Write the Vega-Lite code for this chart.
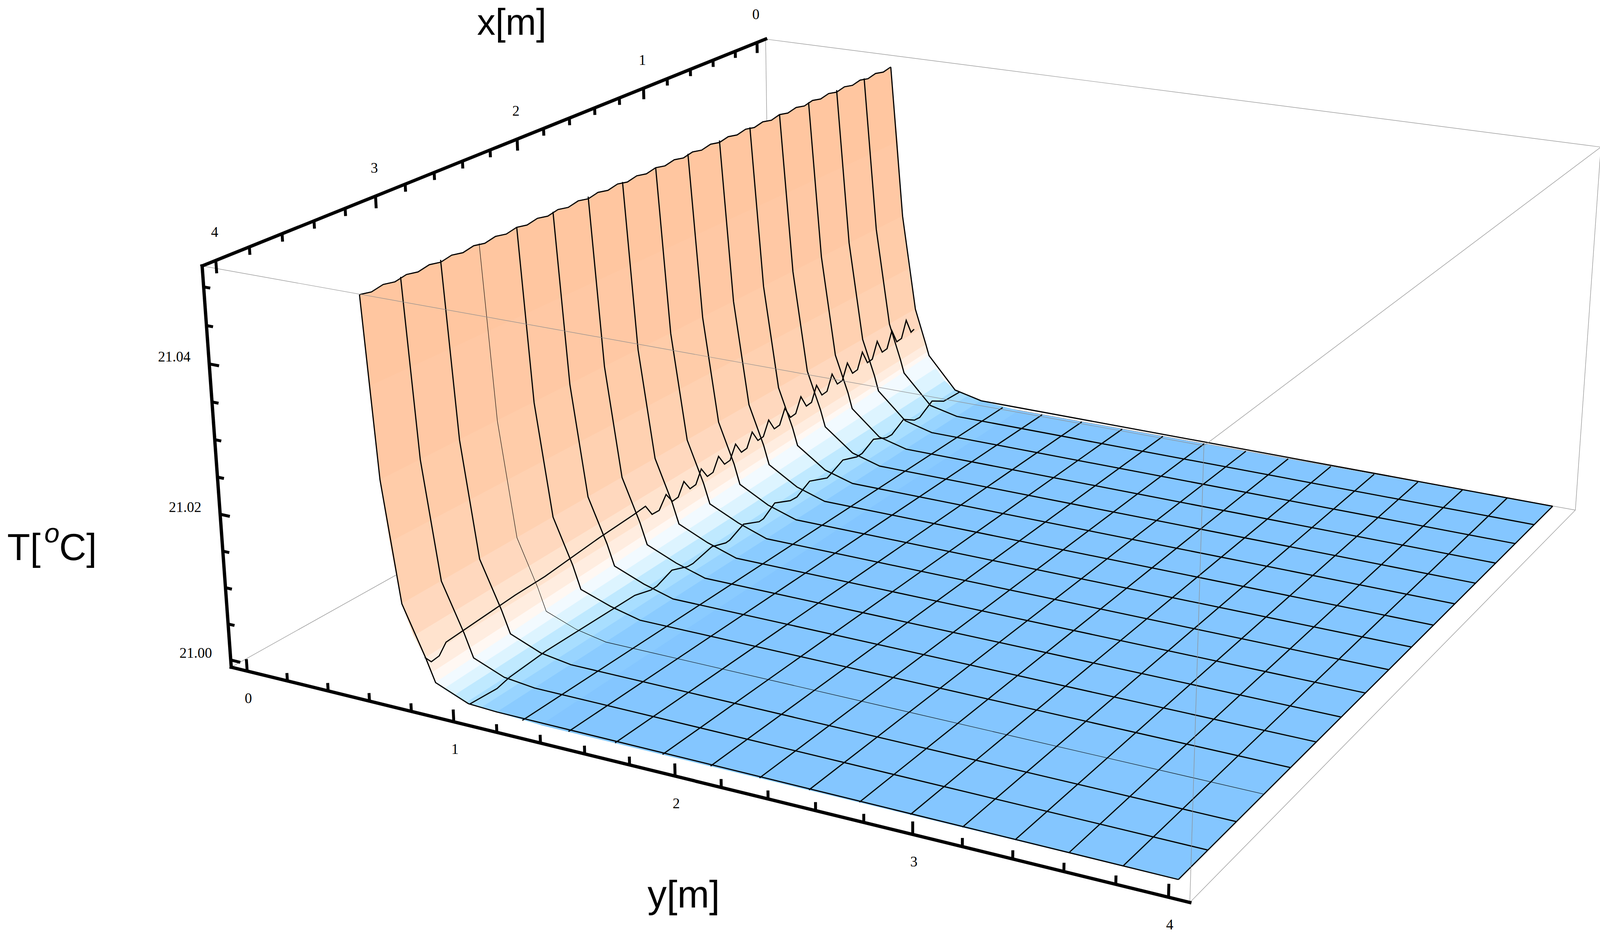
{"$schema":"https://vega.github.io/schema/vega-lite/v6.json","width":4120,"height":2400,"padding":0,"autosize":{"type":"fit","contains":"padding"},"background":"white","config":{"view":{"stroke":null}},
"data":{"values":[
{"kind":"back","x":-0.08,"y":-0.08,"T":20.999,"x2":4.08,"y2":-0.08,"T2":20.999},
{"kind":"back","x":-0.08,"y":-0.08,"T":20.999,"x2":-0.08,"y2":4.08,"T2":20.999},
{"kind":"back","x":-0.08,"y":-0.08,"T":20.999,"x2":-0.08,"y2":-0.08,"T2":21.0527},
{"kind":"front","x":4.08,"y":-0.08,"T":21.0527,"x2":4.08,"y2":4.08,"T2":21.0527},
{"kind":"front","x":4.08,"y":4.08,"T":21.0527,"x2":-0.08,"y2":4.08,"T2":21.0527},
{"kind":"front","x":-0.08,"y":-0.08,"T":21.0527,"x2":-0.08,"y2":4.08,"T2":21.0527},
{"kind":"front","x":4.08,"y":4.08,"T":21.0527,"x2":4.08,"y2":4.08,"T2":20.999},
{"kind":"front","x":-0.08,"y":4.08,"T":21.0527,"x2":-0.08,"y2":4.08,"T2":20.999},
{"kind":"front","x":4.08,"y":4.08,"T":20.999,"x2":-0.08,"y2":4.08,"T2":20.999},
{"kind":"axis","x":4.08,"y":-0.08,"T":20.999,"x2":4.08,"y2":4.08,"T2":20.999},
{"kind":"axis","x":4.08,"y":-0.08,"T":20.999,"x2":4.08,"y2":-0.08,"T2":21.0527},
{"kind":"axis","x":4.08,"y":-0.08,"T":21.0527,"x2":-0.08,"y2":-0.08,"T2":21.0527},

{"kind":"tick","x":4.08,"y":0,"T":20.999,"x2":4.08,"y2":0,"T2":21.00066},
{"kind":"tick","x":4.08,"y":0.2,"T":20.999,"x2":4.08,"y2":0.2,"T2":21.0001},
{"kind":"tick","x":4.08,"y":0.4,"T":20.999,"x2":4.08,"y2":0.4,"T2":21.0001},
{"kind":"tick","x":4.08,"y":0.6,"T":20.999,"x2":4.08,"y2":0.6,"T2":21.0001},
{"kind":"tick","x":4.08,"y":0.8,"T":20.999,"x2":4.08,"y2":0.8,"T2":21.0001},
{"kind":"tick","x":4.08,"y":1,"T":20.999,"x2":4.08,"y2":1,"T2":21.00066},
{"kind":"tick","x":4.08,"y":1.2,"T":20.999,"x2":4.08,"y2":1.2,"T2":21.0001},
{"kind":"tick","x":4.08,"y":1.4,"T":20.999,"x2":4.08,"y2":1.4,"T2":21.0001},
{"kind":"tick","x":4.08,"y":1.6,"T":20.999,"x2":4.08,"y2":1.6,"T2":21.0001},
{"kind":"tick","x":4.08,"y":1.8,"T":20.999,"x2":4.08,"y2":1.8,"T2":21.0001},
{"kind":"tick","x":4.08,"y":2,"T":20.999,"x2":4.08,"y2":2,"T2":21.00066},
{"kind":"tick","x":4.08,"y":2.2,"T":20.999,"x2":4.08,"y2":2.2,"T2":21.0001},
{"kind":"tick","x":4.08,"y":2.4,"T":20.999,"x2":4.08,"y2":2.4,"T2":21.0001},
{"kind":"tick","x":4.08,"y":2.6,"T":20.999,"x2":4.08,"y2":2.6,"T2":21.0001},
{"kind":"tick","x":4.08,"y":2.8,"T":20.999,"x2":4.08,"y2":2.8,"T2":21.0001},
{"kind":"tick","x":4.08,"y":3,"T":20.999,"x2":4.08,"y2":3,"T2":21.00066},
{"kind":"tick","x":4.08,"y":3.2,"T":20.999,"x2":4.08,"y2":3.2,"T2":21.0001},
{"kind":"tick","x":4.08,"y":3.4,"T":20.999,"x2":4.08,"y2":3.4,"T2":21.0001},
{"kind":"tick","x":4.08,"y":3.6,"T":20.999,"x2":4.08,"y2":3.6,"T2":21.0001},
{"kind":"tick","x":4.08,"y":3.8,"T":20.999,"x2":4.08,"y2":3.8,"T2":21.0001},
{"kind":"tick","x":4.08,"y":4,"T":20.999,"x2":4.08,"y2":4,"T2":21.00066},

{"kind":"tick","x":0,"y":-0.08,"T":21.0527,"x2":0,"y2":-0.08,"T2":21.05104},
{"kind":"tick","x":0.2,"y":-0.08,"T":21.0527,"x2":0.2,"y2":-0.08,"T2":21.05166},
{"kind":"tick","x":0.4,"y":-0.08,"T":21.0527,"x2":0.4,"y2":-0.08,"T2":21.05166},
{"kind":"tick","x":0.6,"y":-0.08,"T":21.0527,"x2":0.6,"y2":-0.08,"T2":21.05166},
{"kind":"tick","x":0.8,"y":-0.08,"T":21.0527,"x2":0.8,"y2":-0.08,"T2":21.05166},
{"kind":"tick","x":1,"y":-0.08,"T":21.0527,"x2":1,"y2":-0.08,"T2":21.05104},
{"kind":"tick","x":1.2,"y":-0.08,"T":21.0527,"x2":1.2,"y2":-0.08,"T2":21.05166},
{"kind":"tick","x":1.4,"y":-0.08,"T":21.0527,"x2":1.4,"y2":-0.08,"T2":21.05166},
{"kind":"tick","x":1.6,"y":-0.08,"T":21.0527,"x2":1.6,"y2":-0.08,"T2":21.05166},
{"kind":"tick","x":1.8,"y":-0.08,"T":21.0527,"x2":1.8,"y2":-0.08,"T2":21.05166},
{"kind":"tick","x":2,"y":-0.08,"T":21.0527,"x2":2,"y2":-0.08,"T2":21.05104},
{"kind":"tick","x":2.2,"y":-0.08,"T":21.0527,"x2":2.2,"y2":-0.08,"T2":21.05166},
{"kind":"tick","x":2.4,"y":-0.08,"T":21.0527,"x2":2.4,"y2":-0.08,"T2":21.05166},
{"kind":"tick","x":2.6,"y":-0.08,"T":21.0527,"x2":2.6,"y2":-0.08,"T2":21.05166},
{"kind":"tick","x":2.8,"y":-0.08,"T":21.0527,"x2":2.8,"y2":-0.08,"T2":21.05166},
{"kind":"tick","x":3,"y":-0.08,"T":21.0527,"x2":3,"y2":-0.08,"T2":21.05104},
{"kind":"tick","x":3.2,"y":-0.08,"T":21.0527,"x2":3.2,"y2":-0.08,"T2":21.05166},
{"kind":"tick","x":3.4,"y":-0.08,"T":21.0527,"x2":3.4,"y2":-0.08,"T2":21.05166},
{"kind":"tick","x":3.6,"y":-0.08,"T":21.0527,"x2":3.6,"y2":-0.08,"T2":21.05166},
{"kind":"tick","x":3.8,"y":-0.08,"T":21.0527,"x2":3.8,"y2":-0.08,"T2":21.05166},
{"kind":"tick","x":4,"y":-0.08,"T":21.0527,"x2":4,"y2":-0.08,"T2":21.05104},

{"kind":"tick","x":4.08,"y":-0.08,"T":21.00,"x2":4.08,"y2":-0.032,"T2":21.00},
{"kind":"tick","x":4.08,"y":-0.08,"T":21.005,"x2":4.08,"y2":-0.048,"T2":21.005},
{"kind":"tick","x":4.08,"y":-0.08,"T":21.01,"x2":4.08,"y2":-0.048,"T2":21.01},
{"kind":"tick","x":4.08,"y":-0.08,"T":21.015,"x2":4.08,"y2":-0.048,"T2":21.015},
{"kind":"tick","x":4.08,"y":-0.08,"T":21.02,"x2":4.08,"y2":-0.032,"T2":21.02},
{"kind":"tick","x":4.08,"y":-0.08,"T":21.025,"x2":4.08,"y2":-0.048,"T2":21.025},
{"kind":"tick","x":4.08,"y":-0.08,"T":21.03,"x2":4.08,"y2":-0.048,"T2":21.03},
{"kind":"tick","x":4.08,"y":-0.08,"T":21.035,"x2":4.08,"y2":-0.048,"T2":21.035},
{"kind":"tick","x":4.08,"y":-0.08,"T":21.04,"x2":4.08,"y2":-0.032,"T2":21.04},
{"kind":"tick","x":4.08,"y":-0.08,"T":21.045,"x2":4.08,"y2":-0.048,"T2":21.045},
{"kind":"tick","x":4.08,"y":-0.08,"T":21.05,"x2":4.08,"y2":-0.048,"T2":21.05},

{"kind":"ylab","x":4.08,"y":0,"T":20.999,"label":"0"},
{"kind":"ylab","x":4.08,"y":1,"T":20.999,"label":"1"},
{"kind":"ylab","x":4.08,"y":2,"T":20.999,"label":"2"},
{"kind":"ylab","x":4.08,"y":3,"T":20.999,"label":"3"},
{"kind":"ylab","x":4.08,"y":4,"T":20.999,"label":"4"},
{"kind":"xlab","x":0,"y":-0.08,"T":21.0527,"label":"0"},
{"kind":"xlab","x":1,"y":-0.08,"T":21.0527,"label":"1"},
{"kind":"xlab","x":2,"y":-0.08,"T":21.0527,"label":"2"},
{"kind":"xlab","x":3,"y":-0.08,"T":21.0527,"label":"3"},
{"kind":"xlab","x":4,"y":-0.08,"T":21.0527,"label":"4"},
{"kind":"tlab","x":4.08,"y":-0.08,"T":21.00,"label":"21.00"},
{"kind":"tlab","x":4.08,"y":-0.08,"T":21.02,"label":"21.02"},
{"kind":"tlab","x":4.08,"y":-0.08,"T":21.04,"label":"21.04"},
{"kind":"title_x","x":2.5,"y":-0.08,"T":21.0527,"label":"x[m]"},
{"kind":"title_y","x":4.08,"y":2,"T":20.999,"label":"y[m]"},
{"kind":"title_t1","x":4.08,"y":-0.08,"T":21.02,"label":"T["},
{"kind":"title_t2","x":4.08,"y":-0.08,"T":21.02,"label":"o"},
{"kind":"title_t3","x":4.08,"y":-0.08,"T":21.02,"label":"C]"},

{"b":0,"c":0.63,"l":"top","x":0,"y":0.654,"T":21.0516},{"b":0,"c":0.63,"l":"top","x":0.071,"y":0.653,"T":21.0513},{"b":0,"c":0.63,"l":"top","x":0.143,"y":0.652,"T":21.0516},{"b":0,"c":0.63,"l":"top","x":0.214,"y":0.651,"T":21.0513},{"b":0,"c":0.63,"l":"top","x":0.286,"y":0.65,"T":21.0516},{"b":0,"c":0.63,"l":"top","x":0.357,"y":0.649,"T":21.0513},{"b":0,"c":0.63,"l":"top","x":0.429,"y":0.648,"T":21.0516},{"b":0,"c":0.63,"l":"top","x":0.5,"y":0.647,"T":21.0513},{"b":0,"c":0.63,"l":"top","x":0.571,"y":0.646,"T":21.0516},{"b":0,"c":0.63,"l":"top","x":0.643,"y":0.645,"T":21.0513},{"b":0,"c":0.63,"l":"top","x":0.714,"y":0.644,"T":21.0516},{"b":0,"c":0.63,"l":"top","x":0.786,"y":0.643,"T":21.0513},{"b":0,"c":0.63,"l":"top","x":0.857,"y":0.642,"T":21.0516},{"b":0,"c":0.63,"l":"top","x":0.929,"y":0.641,"T":21.0513},{"b":0,"c":0.63,"l":"top","x":1,"y":0.64,"T":21.0516},{"b":0,"c":0.63,"l":"top","x":1.071,"y":0.64,"T":21.0513},{"b":0,"c":0.63,"l":"top","x":1.143,"y":0.639,"T":21.0516},{"b":0,"c":0.63,"l":"top","x":1.214,"y":0.638,"T":21.0513},{"b":0,"c":0.63,"l":"top","x":1.286,"y":0.637,"T":21.0516},{"b":0,"c":0.63,"l":"top","x":1.357,"y":0.636,"T":21.0513},{"b":0,"c":0.63,"l":"top","x":1.429,"y":0.635,"T":21.0516},{"b":0,"c":0.63,"l":"top","x":1.5,"y":0.634,"T":21.0513},{"b":0,"c":0.63,"l":"top","x":1.571,"y":0.633,"T":21.0516},{"b":0,"c":0.63,"l":"top","x":1.643,"y":0.632,"T":21.0513},{"b":0,"c":0.63,"l":"top","x":1.714,"y":0.631,"T":21.0516},{"b":0,"c":0.63,"l":"top","x":1.786,"y":0.63,"T":21.0513},{"b":0,"c":0.63,"l":"top","x":1.857,"y":0.629,"T":21.0516},{"b":0,"c":0.63,"l":"top","x":1.929,"y":0.628,"T":21.0513},{"b":0,"c":0.63,"l":"top","x":2,"y":0.627,"T":21.0516},{"b":0,"c":0.63,"l":"top","x":2.071,"y":0.626,"T":21.0513},{"b":0,"c":0.63,"l":"top","x":2.143,"y":0.625,"T":21.0516},{"b":0,"c":0.63,"l":"top","x":2.214,"y":0.624,"T":21.0513},{"b":0,"c":0.63,"l":"top","x":2.286,"y":0.623,"T":21.0516},{"b":0,"c":0.63,"l":"top","x":2.357,"y":0.622,"T":21.0513},{"b":0,"c":0.63,"l":"top","x":2.429,"y":0.621,"T":21.0516},{"b":0,"c":0.63,"l":"top","x":2.5,"y":0.62,"T":21.0513},{"b":0,"c":0.63,"l":"top","x":2.571,"y":0.619,"T":21.0516},{"b":0,"c":0.63,"l":"top","x":2.643,"y":0.618,"T":21.0513},{"b":0,"c":0.63,"l":"top","x":2.714,"y":0.617,"T":21.0516},{"b":0,"c":0.63,"l":"top","x":2.786,"y":0.616,"T":21.0513},{"b":0,"c":0.63,"l":"top","x":2.857,"y":0.615,"T":21.0516},{"b":0,"c":0.63,"l":"top","x":2.929,"y":0.614,"T":21.0513},{"b":0,"c":0.63,"l":"top","x":3,"y":0.614,"T":21.0516},{"b":0,"c":0.63,"l":"top","x":3.071,"y":0.613,"T":21.0513},{"b":0,"c":0.63,"l":"top","x":3.143,"y":0.612,"T":21.0516},{"b":0,"c":0.63,"l":"top","x":3.214,"y":0.611,"T":21.0513},{"b":0,"c":0.63,"l":"top","x":3.286,"y":0.61,"T":21.0516},{"b":0,"c":0.63,"l":"top","x":3.357,"y":0.609,"T":21.0513},{"b":0,"c":0.63,"l":"top","x":3.429,"y":0.608,"T":21.0516},{"b":0,"c":0.63,"l":"top","x":3.5,"y":0.607,"T":21.0513},{"b":0,"c":0.63,"l":"top","x":3.571,"y":0.606,"T":21.0516},{"b":0,"c":0.63,"l":"top","x":3.643,"y":0.605,"T":21.0513},{"b":0,"c":0.63,"l":"top","x":3.714,"y":0.604,"T":21.0516},{"b":0,"c":0.63,"l":"top","x":3.786,"y":0.603,"T":21.0513},{"b":0,"c":0.63,"l":"top","x":3.857,"y":0.602,"T":21.0516},{"b":0,"c":0.63,"l":"top","x":3.929,"y":0.601,"T":21.0513},{"b":0,"c":0.63,"l":"top","x":4,"y":0.6,"T":21.0516},
{"b":0,"c":0.63,"x":4,"y":0.622,"T":21.04},{"b":0,"c":0.63,"x":0,"y":0.69,"T":21.04},

{"b":1,"c":0.665,"x":0,"y":0.69,"T":21.04},{"b":1,"c":0.665,"x":4,"y":0.622,"T":21.04},{"b":1,"c":0.665,"x":4,"y":0.648,"T":21.028},{"b":1,"c":0.665,"x":0,"y":0.717,"T":21.0283},
{"b":2,"c":0.695,"x":0,"y":0.717,"T":21.0283},{"b":2,"c":0.695,"x":4,"y":0.648,"T":21.028},{"b":2,"c":0.695,"x":4,"y":0.68,"T":21.02},{"b":2,"c":0.695,"x":0,"y":0.752,"T":21.02},
{"b":3,"c":0.73,"x":0,"y":0.752,"T":21.02},{"b":3,"c":0.73,"x":4,"y":0.68,"T":21.02},{"b":3,"c":0.73,"x":4,"y":0.72,"T":21.012},{"b":3,"c":0.73,"x":0,"y":0.787,"T":21.0136},
{"b":4,"c":0.77,"x":0,"y":0.787,"T":21.0136},{"b":4,"c":0.77,"x":4,"y":0.72,"T":21.012},{"b":4,"c":0.77,"x":4,"y":0.77,"T":21.008},{"b":4,"c":0.77,"x":0,"y":0.815,"T":21.0105},
{"b":5,"c":0.815,"x":0,"y":0.815,"T":21.0105},{"b":5,"c":0.815,"x":4,"y":0.77,"T":21.008},{"b":5,"c":0.815,"x":4,"y":0.82,"T":21.0054},{"b":5,"c":0.815,"x":0,"y":0.844,"T":21.0081},
{"b":6,"c":0.84,"x":0,"y":0.844,"T":21.0081},{"b":6,"c":0.84,"x":4,"y":0.82,"T":21.0054},{"b":6,"c":0.84,"x":4,"y":0.845,"T":21.0035},{"b":6,"c":0.84,"x":0,"y":0.855,"T":21.007},
{"b":7,"c":0.855,"x":0,"y":0.855,"T":21.007},{"b":7,"c":0.855,"x":4,"y":0.845,"T":21.0035},{"b":7,"c":0.855,"x":4,"y":0.862,"T":21.0023},{"b":7,"c":0.855,"x":0,"y":0.862,"T":21.0064},
{"b":8,"c":0.88,"x":0,"y":0.862,"T":21.0064},{"b":8,"c":0.88,"x":4,"y":0.862,"T":21.0023},{"b":8,"c":0.88,"x":4,"y":0.9,"T":21.0017},{"b":8,"c":0.88,"x":0,"y":0.9,"T":21.0045},
{"b":9,"c":0.925,"x":0,"y":0.9,"T":21.0045},{"b":9,"c":0.925,"x":4,"y":0.9,"T":21.0017},{"b":9,"c":0.925,"x":4,"y":0.95,"T":21.0012},{"b":9,"c":0.925,"x":0,"y":0.95,"T":21.0027},
{"b":10,"c":0.98,"x":0,"y":0.95,"T":21.0027},{"b":10,"c":0.98,"x":4,"y":0.95,"T":21.0012},{"b":10,"c":0.98,"x":4,"y":1.005,"T":21.0006},{"b":10,"c":0.98,"x":0,"y":1.005,"T":21.0015},
{"b":11,"c":1.04,"x":0,"y":1.005,"T":21.0015},{"b":11,"c":1.04,"x":4,"y":1.005,"T":21.0006},{"b":11,"c":1.04,"x":4,"y":1.075,"T":21.0004},{"b":11,"c":1.04,"x":0,"y":1.075,"T":21.0009},
{"b":12,"c":1.11,"x":0,"y":1.075,"T":21.0009},{"b":12,"c":1.11,"x":4,"y":1.075,"T":21.0004},{"b":12,"c":1.11,"x":4,"y":1.147,"T":21.0003},{"b":12,"c":1.11,"x":0,"y":1.147,"T":21.0005},
{"b":13,"c":1.25,"x":0,"y":1.147,"T":21.0005},{"b":13,"c":1.25,"x":4,"y":1.147,"T":21.0003},{"b":13,"c":1.25,"x":4,"y":1.35,"T":21.0},{"b":13,"c":1.25,"x":0,"y":1.35,"T":21.0},
{"b":14,"c":2,"x":0,"y":1.35,"T":21.0},{"b":14,"c":2,"x":4,"y":1.35,"T":21.0},{"b":14,"c":2,"x":4,"y":4,"T":21.0},{"b":14,"c":2,"x":0,"y":4,"T":21.0},

{"l":"c0","x":0,"y":0.654,"T":21.0516},{"l":"c0","x":0,"y":0.717,"T":21.0283},{"l":"c0","x":0,"y":0.787,"T":21.0136},{"l":"c0","x":0,"y":0.844,"T":21.0082},{"l":"c0","x":0,"y":0.862,"T":21.0064},{"l":"c0","x":0,"y":1.005,"T":21.0015},{"l":"c0","x":0,"y":1.147,"T":21.0005},{"l":"c0","x":0,"y":4,"T":21.0},
{"l":"c1","x":0.25,"y":0.651,"T":21.0516},{"l":"c1","x":0.25,"y":0.713,"T":21.0283},{"l":"c1","x":0.25,"y":0.783,"T":21.0135},{"l":"c1","x":0.25,"y":0.843,"T":21.008},{"l":"c1","x":0.25,"y":0.862,"T":21.006},{"l":"c1","x":0.25,"y":1.005,"T":21.0015},{"l":"c1","x":0.25,"y":1.147,"T":21.0005},{"l":"c1","x":0.25,"y":4,"T":21.0},
{"l":"c2","x":0.5,"y":0.647,"T":21.0516},{"l":"c2","x":0.5,"y":0.708,"T":21.0283},{"l":"c2","x":0.5,"y":0.778,"T":21.0134},{"l":"c2","x":0.5,"y":0.841,"T":21.0079},{"l":"c2","x":0.5,"y":0.862,"T":21.0056},{"l":"c2","x":0.5,"y":1.005,"T":21.0016},{"l":"c2","x":0.5,"y":1.147,"T":21.00047},{"l":"c2","x":0.5,"y":4,"T":21.0},
{"l":"c3","x":0.75,"y":0.644,"T":21.0516},{"l":"c3","x":0.75,"y":0.704,"T":21.0283},{"l":"c3","x":0.75,"y":0.774,"T":21.0133},{"l":"c3","x":0.75,"y":0.84,"T":21.0077},{"l":"c3","x":0.75,"y":0.862,"T":21.0053},{"l":"c3","x":0.75,"y":1.005,"T":21.0016},{"l":"c3","x":0.75,"y":1.147,"T":21.00046},{"l":"c3","x":0.75,"y":4,"T":21.0},
{"l":"c4","x":1,"y":0.64,"T":21.0516},{"l":"c4","x":1,"y":0.7,"T":21.0282},{"l":"c4","x":1,"y":0.77,"T":21.0132},{"l":"c4","x":1,"y":0.838,"T":21.0075},{"l":"c4","x":1,"y":0.862,"T":21.005},{"l":"c4","x":1,"y":1.005,"T":21.0017},{"l":"c4","x":1,"y":1.147,"T":21.00045},{"l":"c4","x":1,"y":4,"T":21.0},
{"l":"c5","x":1.25,"y":0.637,"T":21.0516},{"l":"c5","x":1.25,"y":0.695,"T":21.0282},{"l":"c5","x":1.25,"y":0.766,"T":21.0131},{"l":"c5","x":1.25,"y":0.837,"T":21.0073},{"l":"c5","x":1.25,"y":0.862,"T":21.0047},{"l":"c5","x":1.25,"y":1.005,"T":21.0017},{"l":"c5","x":1.25,"y":1.147,"T":21.00044},{"l":"c5","x":1.25,"y":4,"T":21.0},
{"l":"c6","x":1.5,"y":0.634,"T":21.0516},{"l":"c6","x":1.5,"y":0.691,"T":21.0282},{"l":"c6","x":1.5,"y":0.762,"T":21.013},{"l":"c6","x":1.5,"y":0.835,"T":21.0072},{"l":"c6","x":1.5,"y":0.862,"T":21.0044},{"l":"c6","x":1.5,"y":1.005,"T":21.0018},{"l":"c6","x":1.5,"y":1.147,"T":21.00043},{"l":"c6","x":1.5,"y":4,"T":21.0},
{"l":"c7","x":1.75,"y":0.63,"T":21.0516},{"l":"c7","x":1.75,"y":0.687,"T":21.0281},{"l":"c7","x":1.75,"y":0.758,"T":21.0129},{"l":"c7","x":1.75,"y":0.834,"T":21.007},{"l":"c7","x":1.75,"y":0.862,"T":21.0041},{"l":"c7","x":1.75,"y":1.005,"T":21.0018},{"l":"c7","x":1.75,"y":1.147,"T":21.00041},{"l":"c7","x":1.75,"y":4,"T":21.0},
{"l":"c8","x":2,"y":0.627,"T":21.0516},{"l":"c8","x":2,"y":0.682,"T":21.0281},{"l":"c8","x":2,"y":0.753,"T":21.0128},{"l":"c8","x":2,"y":0.832,"T":21.0068},{"l":"c8","x":2,"y":0.862,"T":21.0039},{"l":"c8","x":2,"y":1.005,"T":21.0019},{"l":"c8","x":2,"y":1.147,"T":21.0004},{"l":"c8","x":2,"y":4,"T":21.0},
{"l":"c9","x":2.25,"y":0.624,"T":21.0516},{"l":"c9","x":2.25,"y":0.678,"T":21.0281},{"l":"c9","x":2.25,"y":0.749,"T":21.0127},{"l":"c9","x":2.25,"y":0.831,"T":21.0066},{"l":"c9","x":2.25,"y":0.862,"T":21.0037},{"l":"c9","x":2.25,"y":1.005,"T":21.0018},{"l":"c9","x":2.25,"y":1.147,"T":21.00039},{"l":"c9","x":2.25,"y":4,"T":21.0},
{"l":"c10","x":2.5,"y":0.62,"T":21.0516},{"l":"c10","x":2.5,"y":0.674,"T":21.0281},{"l":"c10","x":2.5,"y":0.745,"T":21.0126},{"l":"c10","x":2.5,"y":0.829,"T":21.0065},{"l":"c10","x":2.5,"y":0.862,"T":21.0035},{"l":"c10","x":2.5,"y":1.005,"T":21.0017},{"l":"c10","x":2.5,"y":1.147,"T":21.00038},{"l":"c10","x":2.5,"y":4,"T":21.0},
{"l":"c11","x":2.75,"y":0.617,"T":21.0516},{"l":"c11","x":2.75,"y":0.67,"T":21.028},{"l":"c11","x":2.75,"y":0.741,"T":21.0125},{"l":"c11","x":2.75,"y":0.828,"T":21.0063},{"l":"c11","x":2.75,"y":0.862,"T":21.0033},{"l":"c11","x":2.75,"y":1.005,"T":21.0016},{"l":"c11","x":2.75,"y":1.147,"T":21.00036},{"l":"c11","x":2.75,"y":4,"T":21.0},
{"l":"c12","x":3,"y":0.614,"T":21.0516},{"l":"c12","x":3,"y":0.665,"T":21.028},{"l":"c12","x":3,"y":0.737,"T":21.0124},{"l":"c12","x":3,"y":0.826,"T":21.0061},{"l":"c12","x":3,"y":0.862,"T":21.0029},{"l":"c12","x":3,"y":1.005,"T":21.0014},{"l":"c12","x":3,"y":1.147,"T":21.00035},{"l":"c12","x":3,"y":4,"T":21.0},
{"l":"thin","x":3.25,"y":0.61,"T":21.0516},{"l":"thin","x":3.25,"y":0.661,"T":21.028},{"l":"thin","x":3.25,"y":0.733,"T":21.0123},{"l":"thin","x":3.25,"y":0.825,"T":21.0059},{"l":"thin","x":3.25,"y":0.862,"T":21.0028},{"l":"thin","x":3.25,"y":1.005,"T":21.0012},{"l":"thin","x":3.25,"y":1.147,"T":21.00034},{"l":"thin","x":3.25,"y":4,"T":21.0},
{"l":"c14","x":3.5,"y":0.607,"T":21.0516},{"l":"c14","x":3.5,"y":0.657,"T":21.028},{"l":"c14","x":3.5,"y":0.728,"T":21.0122},{"l":"c14","x":3.5,"y":0.823,"T":21.0058},{"l":"c14","x":3.5,"y":0.862,"T":21.0027},{"l":"c14","x":3.5,"y":1.005,"T":21.001},{"l":"c14","x":3.5,"y":1.147,"T":21.00033},{"l":"c14","x":3.5,"y":4,"T":21.0},
{"l":"c15","x":3.75,"y":0.603,"T":21.0516},{"l":"c15","x":3.75,"y":0.652,"T":21.028},{"l":"c15","x":3.75,"y":0.724,"T":21.0121},{"l":"c15","x":3.75,"y":0.822,"T":21.0056},{"l":"c15","x":3.75,"y":0.862,"T":21.0025},{"l":"c15","x":3.75,"y":1.005,"T":21.0008},{"l":"c15","x":3.75,"y":1.147,"T":21.00031},{"l":"c15","x":3.75,"y":4,"T":21.0},
{"l":"c16","x":4,"y":0.6,"T":21.0516},{"l":"c16","x":4,"y":0.648,"T":21.028},{"l":"c16","x":4,"y":0.72,"T":21.012},{"l":"c16","x":4,"y":0.82,"T":21.0054},{"l":"c16","x":4,"y":0.862,"T":21.0023},{"l":"c16","x":4,"y":1.013,"T":21.0005},{"l":"c16","x":4,"y":1.147,"T":21.0003},{"l":"c16","x":4,"y":4,"T":21.0},

{"l":"r4","x":3.953,"y":0.78,"T":21.00457},{"l":"r4","x":3.913,"y":0.78,"T":21.00347},{"l":"r4","x":3.861,"y":0.78,"T":21.00362},{"l":"r4","x":3.813,"y":0.78,"T":21.0049},{"l":"r4","x":3.345,"y":0.78,"T":21.00567},{"l":"r4","x":3.134,"y":0.78,"T":21.0058},{"l":"r4","x":2.735,"y":0.78,"T":21.0067},{"l":"r4","x":2.469,"y":0.78,"T":21.0071},{"l":"r4","x":2.381,"y":0.78,"T":21.0073},{"l":"r4","x":2.332,"y":0.78,"T":21.00556},{"l":"r4","x":2.276,"y":0.78,"T":21.00552},
{"l":"r4","x":2.219,"y":0.78,"T":21.00724},{"l":"r4","x":2.171,"y":0.78,"T":21.0057},{"l":"r4","x":2.124,"y":0.78,"T":21.0058},
{"l":"r4","x":2.076,"y":0.78,"T":21.0076},{"l":"r4","x":2.028,"y":0.78,"T":21.006},{"l":"r4","x":1.981,"y":0.78,"T":21.0061},
{"l":"r4","x":1.934,"y":0.78,"T":21.00795},{"l":"r4","x":1.886,"y":0.78,"T":21.0063},{"l":"r4","x":1.839,"y":0.78,"T":21.0064},
{"l":"r4","x":1.791,"y":0.78,"T":21.0083},{"l":"r4","x":1.743,"y":0.78,"T":21.0066},{"l":"r4","x":1.696,"y":0.78,"T":21.0067},
{"l":"r4","x":1.648,"y":0.78,"T":21.00865},{"l":"r4","x":1.6,"y":0.78,"T":21.0069},{"l":"r4","x":1.553,"y":0.78,"T":21.007},
{"l":"r4","x":1.506,"y":0.78,"T":21.009},{"l":"r4","x":1.458,"y":0.78,"T":21.0072},{"l":"r4","x":1.411,"y":0.78,"T":21.0073},
{"l":"r4","x":1.363,"y":0.78,"T":21.00935},{"l":"r4","x":1.315,"y":0.78,"T":21.0075},{"l":"r4","x":1.268,"y":0.78,"T":21.0076},
{"l":"r4","x":1.22,"y":0.78,"T":21.0097},{"l":"r4","x":1.172,"y":0.78,"T":21.0078},{"l":"r4","x":1.125,"y":0.78,"T":21.0079},
{"l":"r4","x":1.077,"y":0.78,"T":21.01005},{"l":"r4","x":1.029,"y":0.78,"T":21.0081},{"l":"r4","x":0.982,"y":0.78,"T":21.0082},
{"l":"r4","x":0.935,"y":0.78,"T":21.0104},{"l":"r4","x":0.887,"y":0.78,"T":21.0084},{"l":"r4","x":0.84,"y":0.78,"T":21.0085},
{"l":"r4","x":0.792,"y":0.78,"T":21.01075},{"l":"r4","x":0.744,"y":0.78,"T":21.0087},{"l":"r4","x":0.697,"y":0.78,"T":21.0088},
{"l":"r4","x":0.649,"y":0.78,"T":21.0111},{"l":"r4","x":0.601,"y":0.78,"T":21.009},{"l":"r4","x":0.554,"y":0.78,"T":21.0091},
{"l":"r4","x":0.507,"y":0.78,"T":21.01145},{"l":"r4","x":0.459,"y":0.78,"T":21.0093},{"l":"r4","x":0.412,"y":0.78,"T":21.0094},
{"l":"r4","x":0.364,"y":0.78,"T":21.0118},{"l":"r4","x":0.316,"y":0.78,"T":21.0096},{"l":"r4","x":0.269,"y":0.78,"T":21.0097},
{"l":"r4","x":0.221,"y":0.78,"T":21.01215},{"l":"r4","x":0.173,"y":0.78,"T":21.0099},{"l":"r4","x":0.126,"y":0.78,"T":21.01},
{"l":"r4","x":0.079,"y":0.78,"T":21.0125},{"l":"r4","x":0.031,"y":0.78,"T":21.0101},{"l":"r4","x":0,"y":0.78,"T":21.0103},

{"l":"r5","x":4,"y":1.02,"T":21.0005},{"l":"r5","x":3.862,"y":1.05,"T":21.00101},{"l":"r5","x":3.778,"y":1.05,"T":21.00146},{"l":"r5","x":3.53,"y":1.05,"T":21.00192},{"l":"r5","x":2.887,"y":1.05,"T":21.0019},{"l":"r5","x":2.768,"y":1.05,"T":21.00122},{"l":"r5","x":2.72,"y":1.05,"T":21.00125},{"l":"r5","x":2.604,"y":1.05,"T":21.00217},{"l":"r5","x":2.484,"y":1.05,"T":21.00127},{"l":"r5","x":2.44,"y":1.05,"T":21.00122},{"l":"r5","x":2.289,"y":1.05,"T":21.00194},{"l":"r5","x":2.177,"y":1.05,"T":21.00122},{"l":"r5","x":2.145,"y":1.05,"T":21.00126},{"l":"r5","x":2.03,"y":1.05,"T":21.00233},{"l":"r5","x":1.901,"y":1.05,"T":21.00124},{"l":"r5","x":1.864,"y":1.05,"T":21.00128},{"l":"r5","x":1.767,"y":1.05,"T":21.00257},{"l":"r5","x":1.635,"y":1.05,"T":21.00146},{"l":"r5","x":1.578,"y":1.05,"T":21.00137},{"l":"r5","x":1.465,"y":1.05,"T":21.00258},{"l":"r5","x":1.31,"y":1.05,"T":21.00138},{"l":"r5","x":1.284,"y":1.05,"T":21.00158},{"l":"r5","x":1.167,"y":1.05,"T":21.00263},{"l":"r5","x":1.04,"y":1.05,"T":21.00176},{"l":"r5","x":0.99,"y":1.05,"T":21.00178},{"l":"r5","x":0.884,"y":1.05,"T":21.00288},{"l":"r5","x":0.761,"y":1.05,"T":21.00184},{"l":"r5","x":0.71,"y":1.05,"T":21.0018},{"l":"r5","x":0.597,"y":1.05,"T":21.00306},{"l":"r5","x":0.492,"y":1.05,"T":21.00185},{"l":"r5","x":0.44,"y":1.05,"T":21.00175},{"l":"r5","x":0.317,"y":1.05,"T":21.00315},{"l":"r5","x":0.2,"y":1.05,"T":21.00193},{"l":"r5","x":0.038,"y":1.05,"T":21.0018},

{"l":"r6","x":0,"y":1.263,"T":21.0},{"l":"r6","x":4,"y":1.263,"T":21.0},
{"l":"r7","x":0,"y":1.474,"T":21.0},{"l":"r7","x":4,"y":1.474,"T":21.0},
{"l":"r8","x":0,"y":1.684,"T":21.0},{"l":"r8","x":4,"y":1.684,"T":21.0},
{"l":"r9","x":0,"y":1.895,"T":21.0},{"l":"r9","x":4,"y":1.895,"T":21.0},
{"l":"r10","x":0,"y":2.105,"T":21.0},{"l":"r10","x":4,"y":2.105,"T":21.0},
{"l":"r11","x":0,"y":2.316,"T":21.0},{"l":"r11","x":4,"y":2.316,"T":21.0},
{"l":"r12","x":0,"y":2.526,"T":21.0},{"l":"r12","x":4,"y":2.526,"T":21.0},
{"l":"r13","x":0,"y":2.737,"T":21.0},{"l":"r13","x":4,"y":2.737,"T":21.0},
{"l":"r14","x":0,"y":2.947,"T":21.0},{"l":"r14","x":4,"y":2.947,"T":21.0},
{"l":"r15","x":0,"y":3.158,"T":21.0},{"l":"r15","x":4,"y":3.158,"T":21.0},
{"l":"r16","x":0,"y":3.368,"T":21.0},{"l":"r16","x":4,"y":3.368,"T":21.0},
{"l":"r17","x":0,"y":3.579,"T":21.0},{"l":"r17","x":4,"y":3.579,"T":21.0},
{"l":"r18","x":0,"y":3.789,"T":21.0},{"l":"r18","x":4,"y":3.789,"T":21.0},
{"l":"r19","x":0,"y":4,"T":21.0},{"l":"r19","x":4,"y":4,"T":21.0}
]},
"transform":[
{"calculate":"(datum.x+0.08)/4.16","as":"u"},{"calculate":"(datum.y+0.08)/4.16","as":"v"},{"calculate":"(datum.T-20.999)/0.0537","as":"w"},
{"calculate":"1-0.20423*datum.u-0.10961*datum.v-0.0328*datum.w","as":"den"},
{"calculate":"(1972-1500.9*datum.u+1618.9*datum.v-76.3*datum.w)/datum.den","as":"px"},
{"calculate":"(936+422.4*datum.u+226*datum.v-839.3*datum.w)/datum.den","as":"py"},
{"calculate":"(datum.x2+0.08)/4.16","as":"u2"},{"calculate":"(datum.y2+0.08)/4.16","as":"v2"},{"calculate":"(datum.T2-20.999)/0.0537","as":"w2"},
{"calculate":"1-0.20423*datum.u2-0.10961*datum.v2-0.0328*datum.w2","as":"den2"},
{"calculate":"(1972-1500.9*datum.u2+1618.9*datum.v2-76.3*datum.w2)/datum.den2","as":"px2"},
{"calculate":"(936+422.4*datum.u2+226*datum.v2-839.3*datum.w2)/datum.den2","as":"py2"}
],
"encoding":{
"x":{"field":"px","type":"quantitative","scale":{"domain":[0,4120],"nice":false,"zero":false},"axis":null},
"y":{"field":"py","type":"quantitative","scale":{"domain":[2400,0],"nice":false,"zero":false},"axis":null}
},
"layer":[
{"transform":[{"filter":"datum.kind==='back'"}],"mark":{"type":"rule","stroke":"#8c8c8c","strokeWidth":1.2},"encoding":{"x2":{"field":"px2"},"y2":{"field":"py2"}}},
{"transform":[{"filter":"isValid(datum.b)"}],"mark":{"type":"line","order":false,"strokeWidth":1.5,"strokeJoin":"round"},"encoding":{"detail":{"field":"b"},
 "fill":{"field":"c","type":"quantitative","legend":null,"scale":{"domain":[0.63,0.665,0.695,0.73,0.77,0.815,0.84,0.855,0.88,0.925,0.98,1.04,1.11,1.25,2],"range":["#FFC6A0","#FFC8A4","#FFCCA9","#FFD1B1","#FFD8BE","#FFE3CE","#FFEDE0","#FFF8F3","#F2FAFF","#DDF4FF","#BFE9FF","#A8DEFF","#98D4FF","#8ACBFF","#84C6FF"]}},
 "stroke":{"field":"c","type":"quantitative","legend":null,"scale":{"domain":[0.63,0.665,0.695,0.73,0.77,0.815,0.84,0.855,0.88,0.925,0.98,1.04,1.11,1.25,2],"range":["#FFC6A0","#FFC8A4","#FFCCA9","#FFD1B1","#FFD8BE","#FFE3CE","#FFEDE0","#FFF8F3","#F2FAFF","#DDF4FF","#BFE9FF","#A8DEFF","#98D4FF","#8ACBFF","#84C6FF"]}}}},
{"transform":[{"filter":"isValid(datum.l) && datum.l!=='thin'"}],"mark":{"type":"line","order":false,"stroke":"#000000","strokeWidth":3,"strokeJoin":"miter"},"encoding":{"detail":{"field":"l"}}},
{"transform":[{"filter":"datum.l==='thin'"}],"mark":{"type":"line","order":false,"stroke":"#000000","strokeWidth":1.1},"encoding":{"detail":{"field":"l"}}},
{"transform":[{"filter":"datum.kind==='front'"}],"mark":{"type":"rule","stroke":"#8c8c8c","strokeWidth":1.2},"encoding":{"x2":{"field":"px2"},"y2":{"field":"py2"}}},
{"transform":[{"filter":"datum.kind==='tick'"}],"mark":{"type":"rule","stroke":"#000000","strokeWidth":7.5},"encoding":{"x2":{"field":"px2"},"y2":{"field":"py2"}}},
{"transform":[{"filter":"datum.kind==='axis'"}],"mark":{"type":"rule","stroke":"#000000","strokeWidth":8.5,"strokeCap":"square"},"encoding":{"x2":{"field":"px2"},"y2":{"field":"py2"}}},
{"transform":[{"filter":"datum.kind==='ylab'"}],"mark":{"type":"text","font":"Liberation Serif","fontSize":37,"fill":"#000000","align":"center","baseline":"middle","dx":3,"dy":71},"encoding":{"text":{"field":"label"}}},
{"transform":[{"filter":"datum.kind==='xlab'"}],"mark":{"type":"text","font":"Liberation Serif","fontSize":37,"fill":"#000000","align":"center","baseline":"middle","dx":-3,"dy":-71},"encoding":{"text":{"field":"label"}}},
{"transform":[{"filter":"datum.kind==='tlab'"}],"mark":{"type":"text","font":"Liberation Serif","fontSize":37,"fill":"#000000","align":"right","baseline":"middle","dx":-48,"dy":-17},"encoding":{"text":{"field":"label"}}},
{"transform":[{"filter":"datum.kind==='title_x'"}],"mark":{"type":"text","font":"Liberation Sans","fontSize":94,"fill":"#000000","align":"center","baseline":"alphabetic","dx":162,"dy":-338},"encoding":{"text":{"field":"label"}}},
{"transform":[{"filter":"datum.kind==='title_y'"}],"mark":{"type":"text","font":"Liberation Sans","fontSize":98,"fill":"#000000","align":"center","baseline":"alphabetic","dx":22,"dy":336},"encoding":{"text":{"field":"label"}}},
{"transform":[{"filter":"datum.kind==='title_t1'"}],"mark":{"type":"text","font":"Liberation Sans","fontSize":96,"fill":"#000000","align":"left","baseline":"alphabetic","dx":-545,"dy":117},"encoding":{"text":{"field":"label"}}},
{"transform":[{"filter":"datum.kind==='title_t2'"}],"mark":{"type":"text","font":"Liberation Sans","fontStyle":"italic","fontSize":70,"fill":"#000000","align":"left","baseline":"alphabetic","dx":-450,"dy":72},"encoding":{"text":{"field":"label"}}},
{"transform":[{"filter":"datum.kind==='title_t3'"}],"mark":{"type":"text","font":"Liberation Sans","fontSize":96,"fill":"#000000","align":"left","baseline":"alphabetic","dx":-412,"dy":117},"encoding":{"text":{"field":"label"}}}
]}
